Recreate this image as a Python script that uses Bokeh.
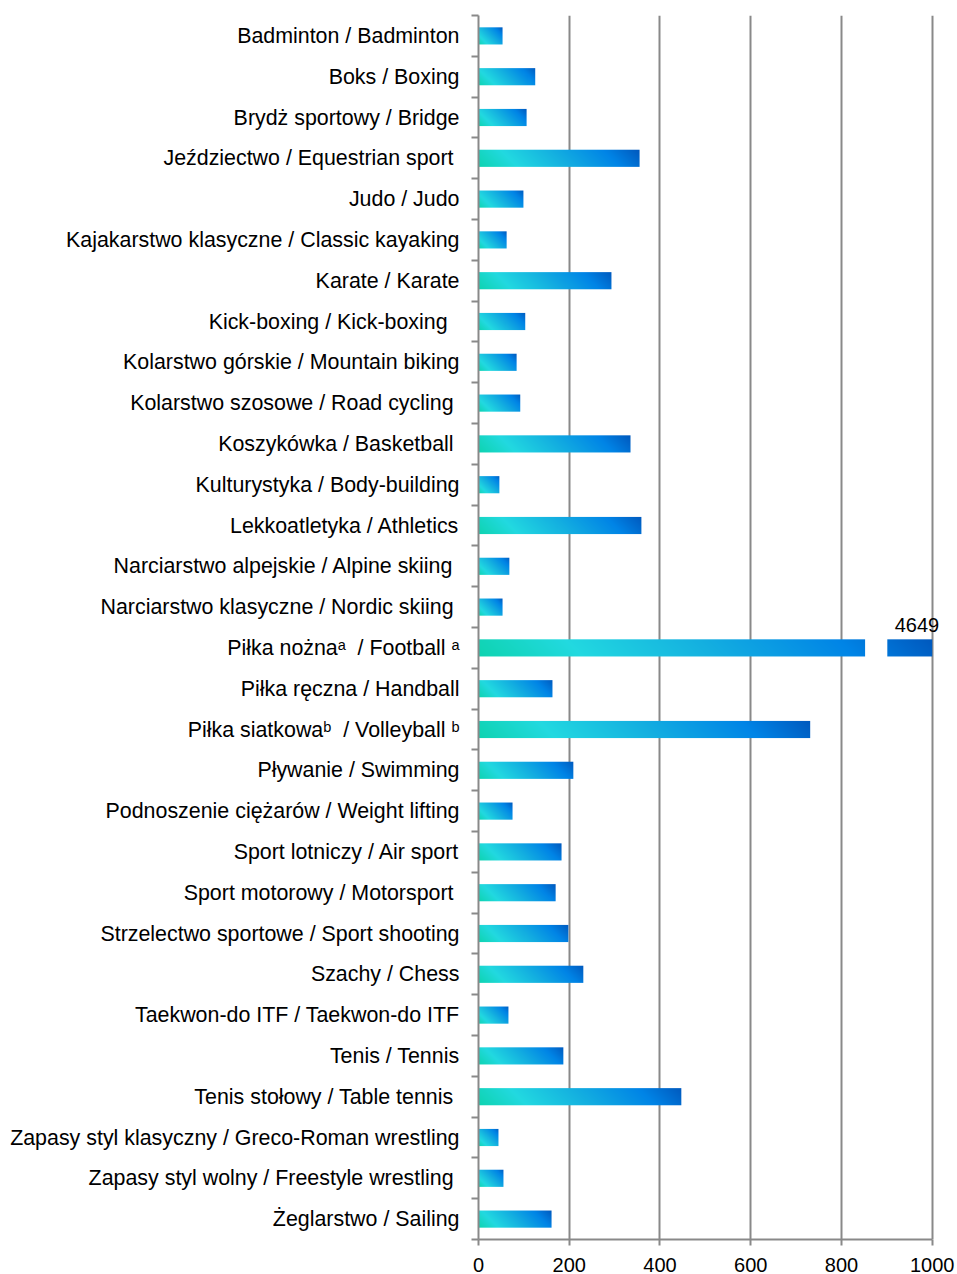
import numpy as np
from bokeh.plotting import figure
from bokeh.models import Range1d, FixedTicker, Label
from bokeh.embed import file_html
from bokeh.resources import INLINE

categories = [
    "Badminton / Badminton",
    "Boks / Boxing",
    "Brydż sportowy / Bridge",
    "Jeździectwo / Equestrian sport\u00a0",
    "Judo / Judo",
    "Kajakarstwo klasyczne / Classic kayaking",
    "Karate / Karate",
    "Kick-boxing / Kick-boxing\u00a0\u00a0",
    "Kolarstwo górskie / Mountain biking",
    "Kolarstwo szosowe / Road cycling\u00a0",
    "Koszykówka / Basketball\u00a0",
    "Kulturystyka / Body-building",
    "Lekkoatletyka / Athletics",
    "Narciarstwo alpejskie / Alpine skiing\u00a0",
    "Narciarstwo klasyczne / Nordic skiing\u00a0",
    "Piłka nożna\u1d43\u00a0 / Football\u00a0\u1d43",
    "Piłka ręczna / Handball",
    "Piłka siatkowa\u1d47\u00a0 / Volleyball\u00a0\u1d47",
    "Pływanie / Swimming",
    "Podnoszenie ciężarów / Weight lifting",
    "Sport lotniczy / Air sport",
    "Sport motorowy / Motorsport\u00a0",
    "Strzelectwo sportowe / Sport shooting",
    "Szachy / Chess",
    "Taekwon-do ITF / Taekwon-do ITF",
    "Tenis / Tennis",
    "Tenis stołowy / Table tennis\u00a0",
    "Zapasy styl klasyczny / Greco-Roman wrestling",
    "Zapasy styl wolny / Freestyle wrestling\u00a0",
    "Żeglarstwo / Sailing",
]

values = [53, 125, 106, 355, 99, 62, 293, 103, 84, 92,
          335, 46, 359, 68, 53, 4649, 163, 731, 209, 75,
          183, 170, 198, 231, 66, 187, 447, 44, 55, 161]

x_ticks = [0, 200, 400, 600, 800, 1000]

# axis break used for values beyond the axis maximum
AXIS_MAX = 1000
BREAK_START = 852
BREAK_END = 901
X_END = 1016   # a little room right of the last gridline for the value label

# styling
BAR_H = 0.42
PX_X = 0.454   # px per data unit (x)
PX_Y = 40.83   # px per category (y)
stop_t = [0.0, 0.22, 0.5, 0.8, 1.0]
stop_rgb = [(14, 211, 176), (34, 217, 224), (20, 176, 224), (0, 132, 230), (0, 88, 189)]
GRID = "#898989"


def gradient_image(a, b, total):
    """RGBA image of one bar piece with a 45-degree linear gradient."""
    wpx = total * PX_X
    hpx = BAR_H * PX_Y
    w = max(2, int(round((b - a) * PX_X)))
    h = max(2, int(round(hpx)))
    xs = a * PX_X + (np.arange(w) + 0.5) * (b - a) * PX_X / w
    ys = (np.arange(h) + 0.5) * hpx / h
    t = (xs[None, :] + ys[:, None]) / (wpx + hpx)
    img = np.empty((h, w), dtype=np.uint32)
    view = img.view(dtype=np.uint8).reshape((h, w, 4))
    for ch in range(3):
        view[:, :, ch] = np.round(np.interp(t, stop_t, [c[ch] for c in stop_rgb])).astype(np.uint8)
    view[:, :, 3] = 255
    return img


imgs, xs_, ys_, dws, dhs = [], [], [], [], []
for i, v in enumerate(values):
    total = min(v, AXIS_MAX)
    if v > AXIS_MAX:
        pieces = [(0, BREAK_START), (BREAK_END, AXIS_MAX)]
    else:
        pieces = [(0, v)]
    for (a, b) in pieces:
        imgs.append(gradient_image(a, b, total))
        xs_.append((a + b) / 2)
        ys_.append(i)
        dws.append(b - a)
        dhs.append(BAR_H)

p = figure(width=957, height=1274, x_range=Range1d(0, X_END),
           y_range=Range1d(len(categories) - 0.5, -0.5),
           output_backend="svg", toolbar_location=None,
           min_border_left=478, min_border_right=18, min_border_top=15, min_border_bottom=34)
p.outline_line_color = None
p.background_fill_color = "white"

p.image_rgba(image=imgs, x=xs_, y=ys_, dw=dws, dh=dhs, anchor="center", origin="top_left")

# grid
p.xgrid.ticker = FixedTicker(ticks=x_ticks)
p.xgrid.grid_line_color = GRID
p.xgrid.grid_line_width = 2
p.ygrid.grid_line_color = None

# x axis
p.xaxis.ticker = FixedTicker(ticks=x_ticks)
p.xaxis.bounds = (0, AXIS_MAX)
p.xaxis.axis_line_color = GRID
p.xaxis.axis_line_width = 2
p.xaxis.major_tick_line_color = GRID
p.xaxis.major_tick_line_width = 2
p.xaxis.major_tick_out = 6
p.xaxis.major_tick_in = 0
p.xaxis.minor_tick_line_color = None
p.xaxis.major_label_text_font = "Liberation Sans"
p.xaxis.major_label_text_font_size = "20px"
p.xaxis.major_label_text_color = "black"
p.xaxis.major_label_standoff = 12

# y axis
p.yaxis.ticker = FixedTicker(ticks=list(range(len(categories))),
                             minor_ticks=[k - 0.5 for k in range(len(categories) + 1)])
p.yaxis.major_label_overrides = {k: c for k, c in enumerate(categories)}
p.yaxis.axis_line_color = GRID
p.yaxis.axis_line_width = 2
p.yaxis.major_tick_line_color = None
p.yaxis.major_tick_out = 0
p.yaxis.major_tick_in = 0
p.yaxis.minor_tick_line_color = GRID
p.yaxis.minor_tick_line_width = 2
p.yaxis.minor_tick_out = 7
p.yaxis.minor_tick_in = 0
p.yaxis.major_label_text_font = "Liberation Sans"
p.yaxis.major_label_text_font_size = "21.4px"
p.yaxis.major_label_text_color = "black"
p.yaxis.major_label_standoff = 12

# value label for the broken bar
for i, v in enumerate(values):
    if v > AXIS_MAX:
        p.add_layout(Label(x=AXIS_MAX, y=i, text=str(v), text_align="right",
                           text_baseline="alphabetic", x_offset=7, y_offset=23,
                           text_font="Liberation Sans", text_font_size="20px",
                           text_color="black"))

open("out.html", "w").write(file_html(p, INLINE))
